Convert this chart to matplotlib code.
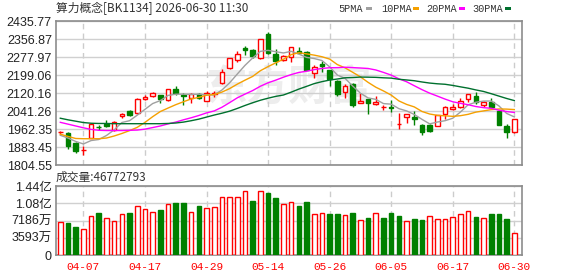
import matplotlib.pyplot as plt
import numpy as np
import pandas as pd

plt.rcParams['font.family'] = ['Liberation Sans', 'Noto Sans CJK SC']

# daily candles, 2026-04-01 .. 2026-06-30 (60 trading days)
opens = [1948.0, 1945.3, 1901.4, 1868.5, 1923.4, 1972.5, 1984.8, 1960.0, 2021.5, 2040.5,
         2031.7, 2093.2, 2107.8, 2112.2, 2088.8, 2138.6, 2110.7, 2099.0, 2115.1, 2084.3,
         2118.0, 2163.4, 2229.3, 2267.4, 2320.1, 2309.9, 2273.3, 2381.6, 2292.3, 2265.9,
         2280.6, 2305.5, 2302.5, 2208.8, 2249.8, 2222.0, 2173.7, 2123.9, 2160.5, 2075.6,
         2094.6, 2071.2, 2057.5, 2060.0, 1984.8, 2014.1, 2015.6, 1980.3, 1980.3, 1974.5,
         2030.1, 2049.1, 2058.0, 2096.1, 2107.8, 2069.8, 2083.0, 2042.0, 1977.4, 1951.1]
highs = [1953.0, 1948.0, 1905.8, 1886.7, 1988.0, 1982.0, 2000.9, 1996.6, 2034.6, 2046.3,
         2097.6, 2110.8, 2125.4, 2113.7, 2140.0, 2150.3, 2121.0, 2119.5, 2119.5, 2131.3,
         2131.0, 2226.4, 2273.3, 2304.0, 2326.0, 2314.3, 2359.6, 2387.4, 2315.7, 2289.4,
         2321.6, 2321.6, 2305.5, 2245.4, 2260.0, 2222.0, 2179.5, 2160.5, 2164.9, 2121.0,
         2094.6, 2106.4, 2069.8, 2088.8, 2034.6, 2028.8, 2043.3, 1984.7, 1984.7, 2025.7,
         2062.3, 2072.6, 2097.6, 2115.1, 2125.4, 2087.3, 2097.6, 2047.8, 1984.7, 2005.3]
lows = [1940.0, 1876.0, 1857.5, 1850.2, 1922.0, 1960.0, 1970.2, 1955.6, 2012.6, 2020.0,
        2028.8, 2088.8, 2104.9, 2075.6, 2086.0, 2113.7, 2066.8, 2075.6, 2096.1, 2084.3,
        2105.0, 2162.0, 2224.9, 2257.2, 2289.4, 2274.7, 2268.9, 2293.0, 2242.5, 2260.1,
        2258.6, 2295.2, 2223.5, 2186.9, 2211.7, 2150.3, 2109.3, 2099.0, 2061.0, 2075.6,
        2030.2, 2066.8, 2047.8, 2036.0, 1961.3, 1990.7, 1981.9, 1937.8, 1951.0, 1974.5,
        2008.2, 2046.0, 2055.0, 2080.0, 2074.1, 2059.5, 2058.0, 1978.9, 1924.7, 1943.8]
closes = [1948.5, 1889.5, 1867.7, 1869.0, 1984.9, 1971.6, 1977.5, 1992.2, 2030.2, 2024.4,
          2093.2, 2104.9, 2119.5, 2096.1, 2137.1, 2119.5, 2106.4, 2115.1, 2099.0, 2121.0,
          2122.0, 2211.7, 2273.3, 2292.3, 2311.3, 2285.0, 2356.7, 2295.2, 2263.0, 2283.5,
          2321.6, 2295.2, 2223.5, 2236.6, 2241.0, 2182.4, 2115.1, 2151.7, 2066.8, 2084.3,
          2078.6, 2083.0, 2058.5, 2055.0, 1985.5, 2028.8, 2005.3, 1951.1, 1955.5, 2025.7,
          2058.0, 2059.4, 2087.3, 2115.1, 2081.5, 2083.0, 2061.0, 1980.3, 1949.6, 2005.3]
volumes = [6.80e7, 6.66e7, 5.82e7, 5.33e7, 8.06e7, 8.76e7, 7.64e7, 7.01e7, 8.48e7, 8.76e7,
           1.017e8, 9.60e7, 8.90e7, 9.39e7, 1.059e8, 1.087e8, 1.087e8, 8.90e7, 1.024e8, 9.82e7,
           9.96e7, 1.206e8, 1.206e8, 1.206e8, 1.332e8, 1.129e8, 1.332e8, 1.297e8, 1.192e8, 1.059e8,
           1.101e8, 1.024e8, 1.108e8, 8.48e7, 8.69e7, 8.55e7, 8.55e7, 8.27e7, 8.76e7, 7.22e7,
           7.71e7, 8.69e7, 7.71e7, 8.76e7, 8.13e7, 7.01e7, 7.50e7, 7.29e7, 8.06e7, 7.43e7,
           7.43e7, 7.85e7, 8.48e7, 9.11e7, 7.92e7, 7.64e7, 8.55e7, 8.55e7, 7.50e7, 46772793]

# moving-average values before a full window is inside the chart
ma5_head = [1935, 1923, 1908, 1897]
ma10_head = [1940, 1930, 1921, 1920, 1920, 1920, 1923, 1932, 1943]
ma20_head = [1992, 1984, 1976, 1968, 1961, 1957, 1956, 1956, 1956, 1957,
             1958, 1962, 1969, 1976, 1985, 1993, 2003, 2012, 2022]
ma30_head = [2010, 2003, 1997, 1991, 1988, 1987, 1987, 1986, 1986, 1986,
             1986, 1986, 1986, 1986, 1987, 1989, 1993, 1999, 2006, 2015,
             2024, 2032, 2041, 2053, 2066, 2078, 2089, 2098, 2106]

price_labels = ['2435.77', '2356.87', '2277.97', '2199.06', '2120.16',
                '2041.26', '1962.35', '1883.45', '1804.55']
vol_ticks = [0, 3.593e7, 7.186e7, 1.0779e8, 1.4372e8]
vol_labels = ['0', '3593万', '7186万', '1.08亿', '1.44亿']
date_idx = [3, 11, 19, 27, 35, 43, 51, 59]
date_labels = ['04-07', '04-17', '04-29', '05-14', '05-26', '06-05', '06-17', '06-30']
ma_names = ['5PMA', '10PMA', '20PMA', '30PMA']

RED = '#ff0000'
GREEN = '#008000'
ma_colors = ['#a0a0a0', '#f5a000', '#ff00ff', '#00702e']

o = np.array(opens); h = np.array(highs); l = np.array(lows); c = np.array(closes)
v = np.array(volumes)
x = np.arange(len(c))

cs = pd.Series(c)
mas = []
for n, head in [(5, ma5_head), (10, ma10_head), (20, ma20_head), (30, ma30_head)]:
    m = cs.rolling(n).mean().to_numpy()
    m[:n - 1] = head
    mas.append(m)

fig = plt.figure(figsize=(5.78, 2.76), dpi=100)
ax = fig.add_axes([56 / 578, 1 - 165 / 276, 466 / 578, 143.7 / 276])
axv = fig.add_axes([56 / 578, 1 - 255 / 276, 466 / 578, 69 / 276])

# watermark
ax.text(0.5, 0.54, '东方财富', transform=ax.transAxes, ha='center', va='center',
        fontsize=30, color='#ededed', fontweight='bold', family='Noto Sans CJK SC', zorder=0)

up = c >= o
ccol = np.where(up, RED, GREEN)
ax.vlines(x, l, h, colors=ccol, lw=1, zorder=2)
ax.bar(x, np.maximum(np.abs(c - o), 0.8), bottom=np.minimum(o, c), width=0.6,
       facecolor=np.where(up, 'white', GREEN), edgecolor=ccol, lw=1, zorder=3)

for m, col in zip(mas, ma_colors):
    ax.plot(x, m, color=col, lw=1, zorder=4)

vup = np.concatenate([[True], c[1:] >= c[:-1]])
vcol = np.where(vup, RED, GREEN)
axv.bar(x, v, width=0.6, facecolor=np.where(vup, 'white', GREEN), edgecolor=vcol, lw=1, zorder=3)

for a in (ax, axv):
    a.set_xlim(-0.56, 60.0)
    a.set_xticks(date_idx)
    a.grid(axis='x', color='#cccccc', lw=1, linestyle=(0, (4, 3)), zorder=1)
    a.grid(axis='y', color='#d0d0d0', lw=1, zorder=1)
    a.set_axisbelow(True)
    a.tick_params(length=0, labelsize=9, labelcolor='#222222', pad=3)
    for s in a.spines.values():
        s.set_color('#8c8c8c')
        s.set_linewidth(1.2)

ax.set_ylim(1804.55, 2435.77)
ax.set_yticks([float(t) for t in price_labels])
ax.set_yticklabels(price_labels)
ax.set_xticklabels([])

axv.set_ylim(0, 1.4372e8)
axv.set_yticks(vol_ticks)
axv.set_yticklabels(vol_labels)
axv.set_xticklabels(date_labels, color=RED, family='Liberation Mono', fontsize=8)
axv.tick_params(axis='x', pad=5)

fig.text(56 / 578, 1 - 8.5 / 276, '算力概念[BK1134] 2026-06-30 11:30', ha='left', va='center',
         fontsize=8.5, color='#333333', family=['Noto Sans CJK SC', 'DejaVu Sans'])
fig.text(56 / 578, 1 - 177 / 276, '成交量:46772793', ha='left', va='center',
         fontsize=8.5, color='#333333', family=['Noto Sans CJK SC', 'DejaVu Sans'])

# legend: name then a small colour swatch
leg_x = [338, 381, 426, 472]
swatch_x = [366, 413, 459, 505]
for name, tx, sx, col in zip(ma_names, leg_x, swatch_x, ma_colors):
    fig.text(tx / 578, 1 - 8.5 / 276, name, ha='left', va='center', fontsize=7.4,
             color='#333333', family='Liberation Mono')
    fig.patches.append(plt.Rectangle((sx / 578, 1 - 10 / 276), 6 / 578, 3 / 276,
                                     transform=fig.transFigure, facecolor=col, edgecolor='none'))

fig.savefig('out.png', dpi=100)
plt.close()
